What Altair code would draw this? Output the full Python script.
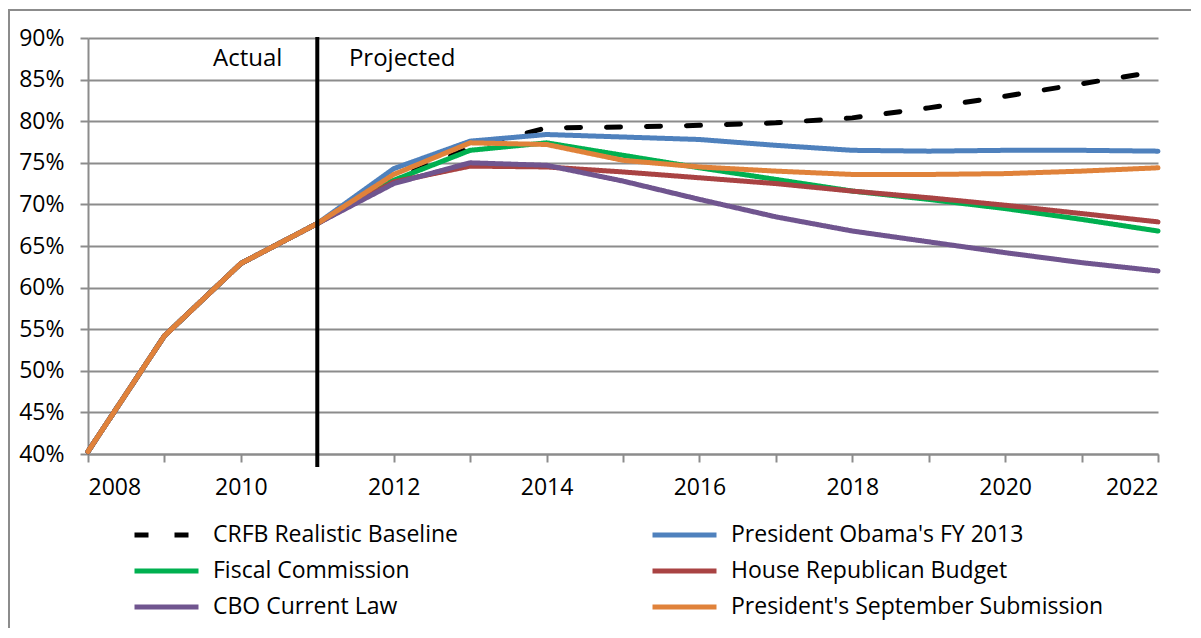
import altair as alt
import pandas as pd

years = list(range(2008, 2023))
series_names = [
    "CRFB Realistic Baseline",
    "President Obama's FY 2013",
    "Fiscal Commission",
    "House Republican Budget",
    "CBO Current Law",
    "President's September Submission",
]
actual = [40.3, 54.2, 62.9, 67.7]
crfb = actual + [73.0, 76.8, 79.2, 79.3, 79.5, 79.8, 80.4, 81.6, 83.0, 84.5, 86.0]
obama = actual + [74.3, 77.6, 78.4, 78.1, 77.8, 77.1, 76.5, 76.4, 76.5, 76.5, 76.4]
fiscal = actual + [72.9, 76.5, 77.4, 75.9, 74.4, 73.0, 71.6, 70.6, 69.5, 68.2, 66.8]
house = actual + [72.7, 74.6, 74.5, 73.9, 73.2, 72.5, 71.6, 70.8, 69.9, 68.9, 67.9]
cbo = actual + [72.5, 75.0, 74.7, 72.8, 70.6, 68.5, 66.8, 65.5, 64.2, 63.0, 62.0]
sept = actual + [73.6, 77.4, 77.2, 75.3, 74.5, 74.0, 73.6, 73.6, 73.7, 74.0, 74.4]
values_by_series = [crfb, obama, fiscal, house, cbo, sept]

colors = ["#000000", "#4F81BD", "#00B050", "#A94343", "#70558F", "#E0823A"]
dashes = [[14, 26], [1, 0], [1, 0], [1, 0], [1, 0], [1, 0]]

# legend fills column by column: left column first, then right column
legend_order = [0, 2, 4, 1, 3, 5]
legend_domain = [series_names[i] for i in legend_order]
legend_colors = [colors[i] for i in legend_order]
legend_dashes = [dashes[i] for i in legend_order]

y_ticks = list(range(40, 95, 5))
annot_text = ["Actual", "Projected"]
annot_x = [2010.09, 2012.11]
annot_y = [86.6, 86.6]
divider_year = [2011]

rows = []
for name, vals in zip(series_names, values_by_series):
    for yr, v in zip(years, vals):
        rows.append({"series": name, "year": yr, "value": v})
df = pd.DataFrame(rows)

FONT = "Open Sans"

legend = alt.Legend(
    title=None,
    orient="none",
    legendX=44,
    legendY=479,
    columns=2,
    symbolType="stroke",
    symbolSize=4096,
    symbolStrokeWidth=5,
    labelFontSize=23,
    labelFont=FONT,
    labelColor="black",
    labelOffset=12,
    columnPadding=192,
    rowPadding=0,
    clipHeight=36,
    labelLimit=500,
)

xenc = alt.X(
    "year:Q",
    scale=alt.Scale(domain=[2008, 2022], nice=False, zero=False),
    axis=alt.Axis(
        values=years,
        format="d",
        labelExpr="datum.value % 2 === 0 ? datum.label : ''",
        grid=False,
        tickSize=8,
        labelPadding=14,
        title=None,
    ),
)
yenc = alt.Y(
    "value:Q",
    scale=alt.Scale(domain=[40, 90], nice=False, zero=False),
    axis=alt.Axis(
        values=y_ticks,
        labelExpr="datum.value + '%'",
        grid=True,
        tickSize=8,
        labelPadding=16,
        title=None,
    ),
)

base = alt.Chart(df).mark_line(
    strokeWidth=5, strokeCap="round", strokeJoin="round"
).encode(
    x=xenc,
    y=yenc,
    color=alt.Color("series:N", scale=alt.Scale(domain=legend_domain, range=legend_colors), legend=legend),
    strokeDash=alt.StrokeDash("series:N", scale=alt.Scale(domain=legend_domain, range=legend_dashes), legend=legend),
)

line_layers = [
    base.transform_filter(alt.datum.series == s) for s in series_names
]

border = alt.Chart(pd.DataFrame({"k": [0]})).mark_rect(
    fillOpacity=0, stroke="#8c8c8c", strokeWidth=2
).encode(
    x=alt.value(-79), x2=alt.value(1300), y=alt.value(-28), y2=alt.value(800)
)

divider = alt.Chart(pd.DataFrame({"year": divider_year})).mark_rule(
    color="black", strokeWidth=4
).encode(x="year:Q", y=alt.value(-1), y2=alt.value(429))

annot = alt.Chart(
    pd.DataFrame({"text": annot_text, "year": annot_x, "value": annot_y})
).mark_text(
    font=FONT, fontSize=24, color="black", align="center", baseline="alphabetic"
).encode(x="year:Q", y="value:Q", text="text:N")

chart = alt.layer(border, *line_layers, divider, annot).properties(
    width=1070,
    height=416,
    padding={"left": 80, "top": 30, "right": 33, "bottom": 174},
    autosize=alt.AutoSizeParams(type="none"),
).configure_axis(
    domainColor="#8c8c8c",
    domainWidth=2,
    tickColor="#8c8c8c",
    tickWidth=2,
    gridColor="#8c8c8c",
    gridWidth=2,
    labelFont=FONT,
    labelFontSize=23,
    labelColor="black",
).configure_view(strokeWidth=0)

chart.save("out.html", embed_options={"renderer": "svg", "actions": False})
